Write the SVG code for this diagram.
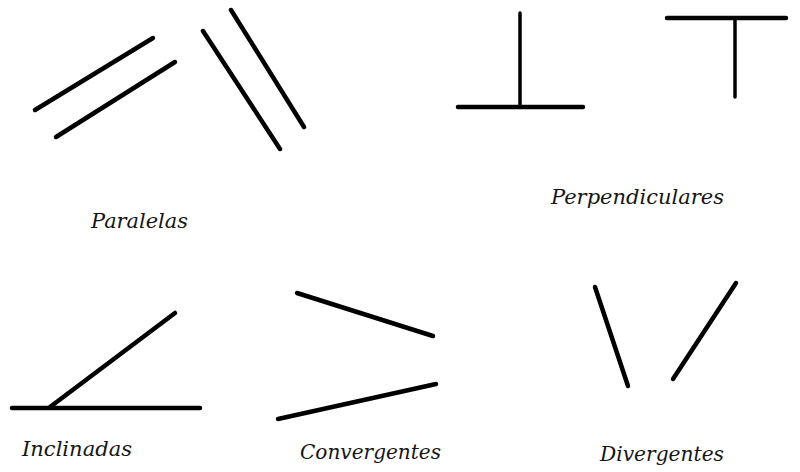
<svg xmlns="http://www.w3.org/2000/svg" width="800" height="472" viewBox="0 0 800 472">
<style>
.ln{stroke:#000;stroke-width:4.5;stroke-linecap:round;fill:none}
.thin{stroke-width:3.5}
.lbl{font-family:"DejaVu Serif","Liberation Serif",serif;font-style:italic;font-size:21px;fill:#151515}
</style>
<rect width="800" height="472" fill="#fff"/>
<g id="connectors">
<g id="paralelas">
<line class="ln" x1="35" y1="110" x2="153" y2="38"/>
<line class="ln" x1="56" y1="137" x2="175" y2="62"/>
<line class="ln" x1="203" y1="31" x2="280" y2="149"/>
<line class="ln" x1="231" y1="10" x2="304" y2="127"/>
</g>
<g id="perpendiculares">
<line class="ln thin" x1="520" y1="13" x2="520" y2="107"/>
<line class="ln" x1="458" y1="107" x2="583" y2="107"/>
<line class="ln" x1="667" y1="18" x2="786" y2="18"/>
<line class="ln thin" x1="735" y1="18" x2="735" y2="97"/>
</g>
<g id="inclinadas">
<line class="ln" x1="12" y1="408" x2="200" y2="408"/>
<line class="ln" x1="50" y1="407" x2="175" y2="313"/>
</g>
<g id="convergentes">
<line class="ln" x1="297" y1="293" x2="433" y2="336"/>
<line class="ln" x1="278" y1="419" x2="436" y2="384"/>
</g>
<g id="divergentes">
<line class="ln" x1="595" y1="287" x2="628" y2="386"/>
<line class="ln" x1="736" y1="283" x2="673" y2="379"/>
</g>
</g>
<g id="label-paralelas"><text class="lbl" x="91" y="228" textLength="97" lengthAdjust="spacingAndGlyphs">Paralelas</text></g>
<g id="label-perpendiculares"><text class="lbl" x="551" y="204" textLength="173" lengthAdjust="spacingAndGlyphs">Perpendiculares</text></g>
<g id="label-inclinadas"><text class="lbl" x="22" y="456" textLength="110" lengthAdjust="spacingAndGlyphs">Inclinadas</text></g>
<g id="label-convergentes"><text class="lbl" x="300" y="459" textLength="141" lengthAdjust="spacingAndGlyphs">Convergentes</text></g>
<g id="label-divergentes"><text class="lbl" x="600" y="461" textLength="124" lengthAdjust="spacingAndGlyphs">Divergentes</text></g>
</svg>
